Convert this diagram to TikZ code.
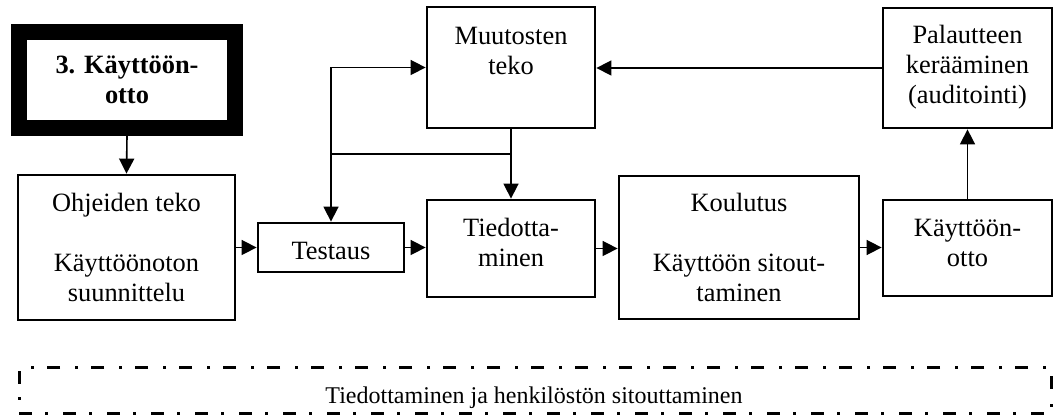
\documentclass[tikz,border=0pt]{standalone}
\usepackage{fontspec}
\setmainfont{Liberation Serif}
\usetikzlibrary{arrows.meta,fit}
\newcommand\diagfont{\fontsize{13.2}{15}\selectfont}
\newcommand\notefont{\fontsize{12}{14}\selectfont}
% centred lines whose baseline is that of the first line
\newcommand\txtlines[2]{\parbox[t]{#1}{\centering #2}}
\begin{document}
\begin{tikzpicture}[x=0.5pt,y=-0.5pt,
  box/.style={draw, line width=1.4pt, inner sep=0pt},
  lbl/.style={anchor=base, inner sep=0pt, font=\diagfont},
  link/.style={line width=0.8pt},
  arr/.style={link, -{Triangle[length=7.5pt,width=7.5pt]}}]
\useasboundingbox (0,0) rectangle (1054,416);

% phase box with heavy frame
\node[box, line width=8pt, fit={(19,32) (235,128)}] (phase) {};
\node[lbl, font=\diagfont\bfseries] (phaset) at (127,74) {\txtlines{110pt}{3. Käyttöön-\\otto}};

% process boxes
\node[box, fit={(18,175) (235,320)}] (ohj) {};
\node[box, fit={(258,223) (404,272)}] (test) {};
\node[box, fit={(427,7) (595,128)}] (muut) {};
\node[box, fit={(427,200) (595,297)}] (tied) {};
\node[box, fit={(619,176) (859,319)}] (koul) {};
\node[box, fit={(883,8) (1052,128)}] (pal) {};
\node[box, fit={(883,200) (1052,296)}] (kayt) {};

\node[lbl] (ohjt) at (126.5,212) {\txtlines{105pt}{Ohjeiden teko\\\mbox{}\\Käyttöönoton\\suunnittelu}};
\node[lbl] (testt) at (331,260) {Testaus};
\node[lbl] (muutt) at (511,45) {\txtlines{80pt}{Muutosten\\teko}};
\node[lbl] (tiedt) at (511,237) {\txtlines{80pt}{Tiedotta-\\minen}};
\node[lbl] (koult) at (739,212) {\txtlines{118pt}{Koulutus\\\mbox{}\\Käyttöön sitout-\\taminen}};
\node[lbl] (palt) at (967.5,44) {\txtlines{84pt}{Palautteen\\kerääminen\\(auditointi)}};
\node[lbl] (kaytt) at (967.5,237) {\txtlines{84pt}{Käyttöön-\\otto}};

% connectors
\draw[arr] (phase.south) -- (ohj.north);
\draw[arr] (ohj.east) -- (ohj.east -| test.west);
\draw[arr] (test.east) -- (test.east -| tied.west);
\draw[arr] (tied.east) -- (tied.east -| koul.west);
\draw[arr] (koul.east) -- (koul.east -| kayt.west);
\draw[arr] (kayt.north) -- (pal.south);
\draw[arr] (pal.west) -- (pal.west -| muut.east);
\draw[arr] (muut.south) -- (tied.north);
\coordinate (split) at (511,154);
\coordinate (turn) at (331,154);
\draw[link] (split) -- (turn);
\draw[arr] (turn) -- (test.north);
\draw[arr] (turn) |- (muut.west);

% dash-dotted band
\node[draw, line width=1.5pt, inner sep=0pt,
      dash pattern=on 6.5pt off 6.5pt on 1.5pt off 7.5pt,
      fit={(19,368) (1051,413)}] (band) {};
\node[lbl, font=\notefont] (bandt) at (534,403) {Tiedottaminen ja henkilöstön sitouttaminen};
\end{tikzpicture}
\end{document}
